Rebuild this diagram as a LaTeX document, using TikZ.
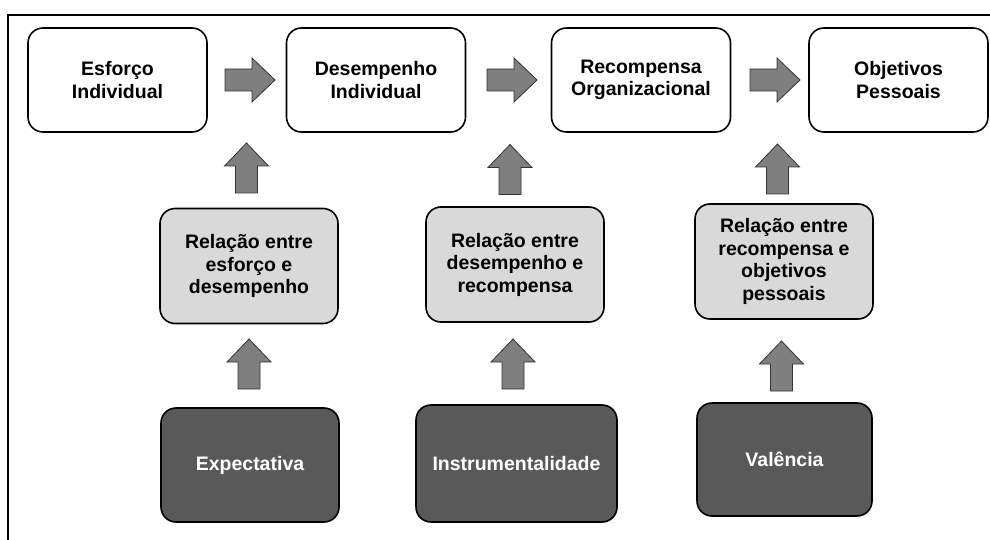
\documentclass[tikz,border=0pt]{standalone}
\usepackage{fontspec}
\setmainfont{Liberation Sans}
\usetikzlibrary{calc}
\definecolor{arrowgray}{HTML}{7F7F7F}
\definecolor{midgray}{HTML}{D9D9D9}
\definecolor{darkbox}{HTML}{595959}
\tikzset{
  box/.style={draw=black, line width=1.6pt, rounded corners=15pt, align=center,
    font=\fontsize{19.5}{22.5}\selectfont\bfseries, inner sep=0pt},
  topbox/.style={box, fill=white, text=black, minimum width=179pt, minimum height=104pt},
  midbox/.style={box, fill=midgray, text=black, minimum width=178pt, minimum height=115pt},
  lowbox/.style={box, fill=darkbox, text=white, minimum height=114pt},
  blockarrow/.style={draw=black!80, line width=0.8pt, fill=arrowgray, line join=miter},
}
\newcommand\myblockarrow[3]{%
  \begin{scope}[shift={(#1,#2)},rotate=#3]
    \draw[blockarrow] (-25,-11) -- (2,-11) -- (2,-22) -- (25,0) -- (2,22) -- (2,11) -- (-25,11) -- cycle;
  \end{scope}}
\begin{document}
\begin{tikzpicture}[x=1pt,y=-1pt]
\useasboundingbox (0,0) rectangle (990,540);
\draw[line width=2pt] (8,540) -- (8,15) -- (990,15);

% top row
\node[topbox] (b1) at (117.5,80) {Esforço\\Individual};
\node[topbox] (b2) at (376,80) {Desempenho\\Individual};
\node[topbox] (b3) at (641,80) {Recompensa\\Organizacional};
\node[topbox] (b4) at (898.5,80) {Objetivos\\Pessoais};

% middle row
\node[midbox] (m1) at (249,266) {Relação entre\\esforço e\\desempenho};
\node[midbox] (m2) at (515,264.5) {Relação entre\\desempenho e\\recompensa};
\node[midbox] (m3) at (784,261.5) {Relação entre\\recompensa e\\objetivos\\pessoais};

% bottom row
\node[lowbox, minimum width=178pt] (l1) at (250,465) {Expectativa};
\node[lowbox, minimum width=201pt, minimum height=117pt] (l2) at (516.5,463.5) {Instrumentalidade};
\node[lowbox, minimum width=175pt, minimum height=113pt] (l3) at (784.5,459.5) {Valência};

% horizontal block arrows
\myblockarrow{250}{80}{0}
\myblockarrow{512}{80}{0}
\myblockarrow{775}{80}{0}

% upper vertical block arrows
\myblockarrow{246.5}{168}{90}
\myblockarrow{510}{169.5}{90}
\myblockarrow{777.5}{169}{90}

% lower vertical block arrows
\myblockarrow{249}{364}{90}
\myblockarrow{513}{364}{90}
\myblockarrow{781.5}{366}{90}
\end{tikzpicture}
\end{document}
